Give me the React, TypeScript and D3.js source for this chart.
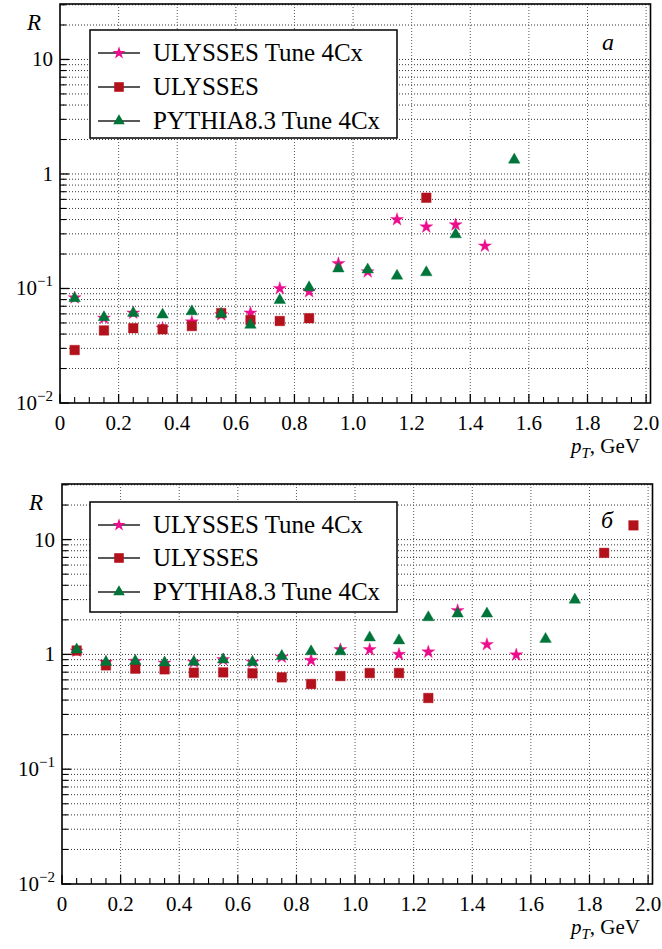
import React from "react";
import * as d3 from "d3";

// ---------- data ----------
// Panel a (top)
const aStarX = [0.05, 0.15, 0.25, 0.35, 0.45, 0.55, 0.65, 0.75, 0.85, 0.95, 1.05, 1.15, 1.25, 1.35, 1.45];
const aStarY = [0.083, 0.055, 0.061, 0.045, 0.051, 0.059, 0.061, 0.1, 0.094, 0.165, 0.14, 0.40, 0.345, 0.36, 0.235];
const aSquareX = [0.05, 0.15, 0.25, 0.35, 0.45, 0.55, 0.65, 0.75, 0.85, 1.25];
const aSquareY = [0.029, 0.043, 0.045, 0.044, 0.047, 0.061, 0.053, 0.052, 0.055, 0.62];
const aTriX = [0.05, 0.15, 0.25, 0.35, 0.45, 0.55, 0.65, 0.75, 0.85, 0.95, 1.05, 1.15, 1.25, 1.35, 1.55];
const aTriY = [0.082, 0.056, 0.061, 0.059, 0.063, 0.06, 0.048, 0.079, 0.102, 0.149, 0.146, 0.129, 0.138, 0.296, 1.33];

// Panel б (bottom)
const bStarX = [0.05, 0.15, 0.25, 0.35, 0.45, 0.55, 0.65, 0.75, 0.85, 0.95, 1.05, 1.15, 1.25, 1.35, 1.45, 1.55];
const bStarY = [1.07, 0.857, 0.87, 0.84, 0.857, 0.9, 0.857, 0.948, 0.887, 1.1, 1.1, 1.0, 1.05, 2.41, 1.22, 0.99];
const bSquareX = [0.05, 0.15, 0.25, 0.35, 0.45, 0.55, 0.65, 0.75, 0.85, 0.95, 1.05, 1.15, 1.25, 1.85, 1.95];
const bSquareY = [1.08, 0.802, 0.751, 0.741, 0.693, 0.697, 0.684, 0.631, 0.552, 0.648, 0.688, 0.688, 0.417, 7.66, 13.3];
const bTriX = [0.05, 0.15, 0.25, 0.35, 0.45, 0.55, 0.65, 0.75, 0.85, 0.95, 1.05, 1.15, 1.25, 1.35, 1.45, 1.65, 1.75];
const bTriY = [1.1, 0.857, 0.874, 0.847, 0.86, 0.9, 0.857, 0.967, 1.06, 1.06, 1.4, 1.32, 2.1, 2.26, 2.26, 1.36, 2.99];

const seriesNames = ["ULYSSES Tune 4Cx", "ULYSSES", "PYTHIA8.3 Tune 4Cx"];
const seriesColors = ["#ec0c8c", "#b3121c", "#00753a"];
const seriesShapes = ["star", "square", "triangle"];

const xMajorTicks = [0, 0.2, 0.4, 0.6, 0.8, 1.0, 1.2, 1.4, 1.6, 1.8, 2.0];
const yMajorTicks = [0.01, 0.1, 1, 10];
const yTickExp = ["−2", "−1", "", ""];
const yTickBase = ["10", "10", "1", "10"];

const FONT = "'Liberation Serif', 'DejaVu Serif', serif";

function symbolPath(shape: string) {
  if (shape === "star") return d3.symbol(d3.symbolStar, 52)()!;
  if (shape === "square") return d3.symbol(d3.symbolSquare, 92)()!;
  return d3.symbol(d3.symbolTriangle, 58)()!;
}

type PanelProps = {
  left: number; right: number; top: number; bottom: number;
  legendBox: [number, number, number, number];
  legendRows: number[];
  letter: string; letterX: number; letterY: number;
  series: { xs: number[]; ys: number[] }[];
};

function Panel(p: PanelProps) {
  const x = d3.scaleLinear().domain([0, 2.015]).range([p.left, p.right]);
  const y = d3.scaleLog().domain([0.01, 30.5]).range([p.bottom, p.top]);
  const yMinor: number[] = [];
  [0.01, 0.1, 1, 10].forEach((d) => {
    for (let k = 2; k <= 9; k++) if (d * k < 30.5) yMinor.push(d * k);
  });
  const xMinor = d3.range(1, 41).map((i) => i * 0.05).filter((v) => Math.abs(v / 0.2 - Math.round(v / 0.2)) > 1e-6);
  const dotted = { stroke: "#333", strokeWidth: 1, strokeDasharray: "1,2" };
  const drawOrder = [0, 1, 2];
  return (
    <g>
      {[...yMinor, ...yMajorTicks.slice(1)].map((v, i) => (
        <line key={"gy" + i} x1={p.left} x2={p.right} y1={y(v)} y2={y(v)} {...dotted} />
      ))}
      {xMajorTicks.slice(1).map((v, i) => (
        <line key={"gx" + i} x1={x(v)} x2={x(v)} y1={p.top} y2={p.bottom} {...dotted} stroke="#555" />
      ))}
      {xMajorTicks.map((v, i) => (
        <line key={"tx" + i} x1={x(v)} x2={x(v)} y1={p.bottom} y2={p.bottom - 9} stroke="#000" strokeWidth={1.3} />
      ))}
      {xMinor.map((v, i) => (
        <line key={"tmx" + i} x1={x(v)} x2={x(v)} y1={p.bottom} y2={p.bottom - 6} stroke="#000" strokeWidth={1.1} />
      ))}
      {yMajorTicks.map((v, i) => (
        <line key={"ty" + i} x1={p.left} x2={p.left + 9} y1={y(v)} y2={y(v)} stroke="#000" strokeWidth={1.3} />
      ))}
      {yMinor.map((v, i) => (
        <line key={"tmy" + i} x1={p.left} x2={p.left + 6} y1={y(v)} y2={y(v)} stroke="#000" strokeWidth={1.1} />
      ))}
      <rect x={p.left} y={p.top} width={p.right - p.left} height={p.bottom - p.top} fill="none" stroke="#000" strokeWidth={1.6} />
      {xMajorTicks.map((v, i) => (
        <text key={"lx" + i} x={x(v)} y={p.bottom + 27} textAnchor="middle" fontFamily={FONT} fontSize={21}>
          {v === 0 ? "0" : v.toFixed(1)}
        </text>
      ))}
      {yMajorTicks.map((v, i) => (
        <text key={"ly" + i} x={p.left - 7} y={y(v) + 7} textAnchor="end" fontFamily={FONT} fontSize={21}>
          {yTickBase[i]}
          {yTickExp[i] && (
            <tspan fontSize={15} dy={-9}>{yTickExp[i]}</tspan>
          )}
        </text>
      ))}
      <text x={p.left - 33} y={p.top + 26} fontFamily={FONT} fontStyle="italic" fontSize={23}>R</text>
      <text x={640} y={p.bottom + 50} textAnchor="end" fontFamily={FONT} fontSize={21}>
        <tspan fontStyle="italic">p</tspan>
        <tspan fontStyle="italic" fontSize={15} dy={5}>T</tspan>
        <tspan dy={-5}>, GeV</tspan>
      </text>
      <text x={p.letterX} y={p.letterY} textAnchor="middle" fontFamily={FONT} fontStyle="italic" fontSize={24}>{p.letter}</text>
      {drawOrder.map((si) => (
        <g key={"s" + si}>
          {p.series[si].xs.map((xv, j) => (
            <path key={j} d={symbolPath(seriesShapes[si])} transform={`translate(${x(xv)},${y(p.series[si].ys[j])})`} fill={seriesColors[si]} stroke={seriesColors[si]} strokeOpacity={0.5} strokeWidth={0.8} />
          ))}
        </g>
      ))}
      <rect x={p.legendBox[0]} y={p.legendBox[1]} width={p.legendBox[2] - p.legendBox[0]} height={p.legendBox[3] - p.legendBox[1]} fill="#fff" stroke="#000" strokeWidth={1.5} />
      {seriesNames.map((nm, i) => (
        <g key={"lg" + i}>
          <line x1={p.legendBox[0] + 8} x2={p.legendBox[0] + 50} y1={p.legendRows[i]} y2={p.legendRows[i]} stroke="#222" strokeWidth={1.5} />
          <path d={symbolPath(seriesShapes[i])} transform={`translate(${p.legendBox[0] + 29},${p.legendRows[i]})`} fill={seriesColors[i]} />
          <text x={p.legendBox[0] + 63} y={p.legendRows[i] + 8} fontFamily={FONT} fontSize={25}>{nm}</text>
        </g>
      ))}
    </g>
  );
}

export default function App() {
  return (
    <svg width={662} height={949} style={{ position: "absolute", left: 0, top: 0, background: "#fff" }}>
      <rect width={662} height={949} fill="#fff" />
      <Panel
        left={60} right={650.5} top={4} bottom={403}
        legendBox={[90, 30, 397, 138]} legendRows={[53, 87, 121]}
        letter="a" letterX={608} letterY={50}
        series={[{ xs: aStarX, ys: aStarY }, { xs: aSquareX, ys: aSquareY }, { xs: aTriX, ys: aTriY }]}
      />
      <Panel
        left={62} right={652.5} top={484} bottom={884}
        legendBox={[90, 502, 397, 612]} legendRows={[525, 558, 592]}
        letter="б" letterX={607} letterY={528}
        series={[{ xs: bStarX, ys: bStarY }, { xs: bSquareX, ys: bSquareY }, { xs: bTriX, ys: bTriY }]}
      />
    </svg>
  );
}
